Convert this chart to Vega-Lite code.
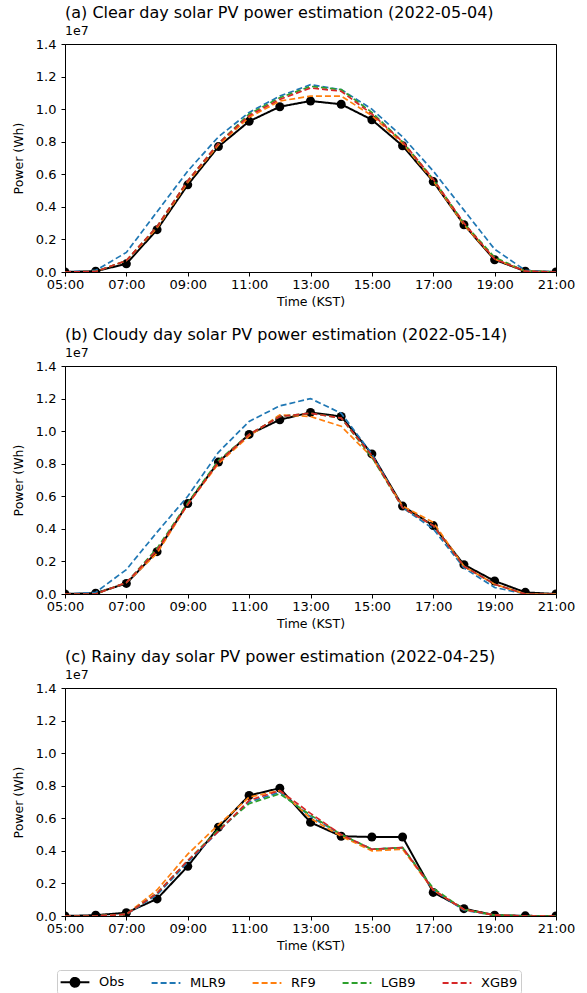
{
  "$schema": "https://vega.github.io/schema/vega-lite/v6.json",
  "background": "white",
  "padding": {"left": 11, "top": 4, "right": 10, "bottom": 0},
  "datasets": {
    "pv": [
      {"day": "a", "hour": 5, "Obs": 0, "MLR9": 0, "RF9": 0, "LGB9": 0, "XGB9": 0},
      {"day": "a", "hour": 6, "Obs": 50000, "MLR9": 100000, "RF9": 30000, "LGB9": 30000, "XGB9": 30000},
      {"day": "a", "hour": 7, "Obs": 500000, "MLR9": 1200000, "RF9": 700000, "LGB9": 700000, "XGB9": 700000},
      {"day": "a", "hour": 8, "Obs": 2600000, "MLR9": 3700000, "RF9": 2700000, "LGB9": 2800000, "XGB9": 2800000},
      {"day": "a", "hour": 9, "Obs": 5350000, "MLR9": 6200000, "RF9": 5500000, "LGB9": 5600000, "XGB9": 5600000},
      {"day": "a", "hour": 10, "Obs": 7700000, "MLR9": 8300000, "RF9": 7800000, "LGB9": 7900000, "XGB9": 7900000},
      {"day": "a", "hour": 11, "Obs": 9250000, "MLR9": 9800000, "RF9": 9500000, "LGB9": 9700000, "XGB9": 9600000},
      {"day": "a", "hour": 12, "Obs": 10150000, "MLR9": 10800000, "RF9": 10500000, "LGB9": 10700000, "XGB9": 10600000},
      {"day": "a", "hour": 13, "Obs": 10500000, "MLR9": 11500000, "RF9": 10800000, "LGB9": 11400000, "XGB9": 11300000},
      {"day": "a", "hour": 14, "Obs": 10300000, "MLR9": 11200000, "RF9": 10800000, "LGB9": 11200000, "XGB9": 11100000},
      {"day": "a", "hour": 15, "Obs": 9350000, "MLR9": 10000000, "RF9": 9600000, "LGB9": 9800000, "XGB9": 9700000},
      {"day": "a", "hour": 16, "Obs": 7750000, "MLR9": 8300000, "RF9": 7900000, "LGB9": 8000000, "XGB9": 8000000},
      {"day": "a", "hour": 17, "Obs": 5550000, "MLR9": 6200000, "RF9": 5600000, "LGB9": 5700000, "XGB9": 5700000},
      {"day": "a", "hour": 18, "Obs": 2900000, "MLR9": 3800000, "RF9": 2900000, "LGB9": 3000000, "XGB9": 3000000},
      {"day": "a", "hour": 19, "Obs": 750000, "MLR9": 1400000, "RF9": 800000, "LGB9": 900000, "XGB9": 800000},
      {"day": "a", "hour": 20, "Obs": 50000, "MLR9": 100000, "RF9": 50000, "LGB9": 50000, "XGB9": 50000},
      {"day": "a", "hour": 21, "Obs": 0, "MLR9": 0, "RF9": 0, "LGB9": 0, "XGB9": 0},
      {"day": "b", "hour": 5, "Obs": 0, "MLR9": 0, "RF9": 0, "LGB9": 0, "XGB9": 0},
      {"day": "b", "hour": 6, "Obs": 50000, "MLR9": 100000, "RF9": 0, "LGB9": 0, "XGB9": 0},
      {"day": "b", "hour": 7, "Obs": 650000, "MLR9": 1500000, "RF9": 700000, "LGB9": 700000, "XGB9": 700000},
      {"day": "b", "hour": 8, "Obs": 2600000, "MLR9": 3800000, "RF9": 2500000, "LGB9": 2800000, "XGB9": 2700000},
      {"day": "b", "hour": 9, "Obs": 5550000, "MLR9": 6000000, "RF9": 5500000, "LGB9": 5600000, "XGB9": 5500000},
      {"day": "b", "hour": 10, "Obs": 8100000, "MLR9": 8700000, "RF9": 8000000, "LGB9": 8200000, "XGB9": 8100000},
      {"day": "b", "hour": 11, "Obs": 9800000, "MLR9": 10600000, "RF9": 9700000, "LGB9": 9800000, "XGB9": 9800000},
      {"day": "b", "hour": 12, "Obs": 10700000, "MLR9": 11550000, "RF9": 11000000, "LGB9": 10900000, "XGB9": 10900000},
      {"day": "b", "hour": 13, "Obs": 11150000, "MLR9": 12000000, "RF9": 10900000, "LGB9": 11100000, "XGB9": 11100000},
      {"day": "b", "hour": 14, "Obs": 10900000, "MLR9": 11100000, "RF9": 10300000, "LGB9": 10800000, "XGB9": 10800000},
      {"day": "b", "hour": 15, "Obs": 8600000, "MLR9": 8600000, "RF9": 8400000, "LGB9": 8400000, "XGB9": 8500000},
      {"day": "b", "hour": 16, "Obs": 5400000, "MLR9": 5300000, "RF9": 5400000, "LGB9": 5300000, "XGB9": 5300000},
      {"day": "b", "hour": 17, "Obs": 4200000, "MLR9": 4000000, "RF9": 4400000, "LGB9": 4200000, "XGB9": 4200000},
      {"day": "b", "hour": 18, "Obs": 1800000, "MLR9": 1600000, "RF9": 1700000, "LGB9": 1700000, "XGB9": 1700000},
      {"day": "b", "hour": 19, "Obs": 800000, "MLR9": 400000, "RF9": 600000, "LGB9": 600000, "XGB9": 600000},
      {"day": "b", "hour": 20, "Obs": 100000, "MLR9": 0, "RF9": 0, "LGB9": 0, "XGB9": 0},
      {"day": "b", "hour": 21, "Obs": 0, "MLR9": 0, "RF9": 0, "LGB9": 0, "XGB9": 0},
      {"day": "c", "hour": 5, "Obs": 0, "MLR9": 0, "RF9": 0, "LGB9": 0, "XGB9": 0},
      {"day": "c", "hour": 6, "Obs": 50000, "MLR9": 0, "RF9": 0, "LGB9": 0, "XGB9": 0},
      {"day": "c", "hour": 7, "Obs": 200000, "MLR9": 100000, "RF9": 100000, "LGB9": 100000, "XGB9": 100000},
      {"day": "c", "hour": 8, "Obs": 1050000, "MLR9": 1300000, "RF9": 1600000, "LGB9": 1400000, "XGB9": 1400000},
      {"day": "c", "hour": 9, "Obs": 3050000, "MLR9": 3300000, "RF9": 3800000, "LGB9": 3400000, "XGB9": 3400000},
      {"day": "c", "hour": 10, "Obs": 5450000, "MLR9": 5200000, "RF9": 5600000, "LGB9": 5300000, "XGB9": 5200000},
      {"day": "c", "hour": 11, "Obs": 7400000, "MLR9": 7000000, "RF9": 7300000, "LGB9": 6900000, "XGB9": 7100000},
      {"day": "c", "hour": 12, "Obs": 7850000, "MLR9": 7600000, "RF9": 7700000, "LGB9": 7500000, "XGB9": 7700000},
      {"day": "c", "hour": 13, "Obs": 5750000, "MLR9": 6100000, "RF9": 6000000, "LGB9": 6200000, "XGB9": 6300000},
      {"day": "c", "hour": 14, "Obs": 4900000, "MLR9": 5000000, "RF9": 4900000, "LGB9": 5000000, "XGB9": 5000000},
      {"day": "c", "hour": 15, "Obs": 4850000, "MLR9": 4100000, "RF9": 4000000, "LGB9": 4100000, "XGB9": 4100000},
      {"day": "c", "hour": 16, "Obs": 4850000, "MLR9": 4200000, "RF9": 4100000, "LGB9": 4200000, "XGB9": 4200000},
      {"day": "c", "hour": 17, "Obs": 1450000, "MLR9": 1600000, "RF9": 1600000, "LGB9": 1700000, "XGB9": 1600000},
      {"day": "c", "hour": 18, "Obs": 450000, "MLR9": 350000, "RF9": 400000, "LGB9": 400000, "XGB9": 400000},
      {"day": "c", "hour": 19, "Obs": 50000, "MLR9": 50000, "RF9": 50000, "LGB9": 50000, "XGB9": 50000},
      {"day": "c", "hour": 20, "Obs": 10000, "MLR9": 0, "RF9": 0, "LGB9": 0, "XGB9": 0},
      {"day": "c", "hour": 21, "Obs": 0, "MLR9": 0, "RF9": 0, "LGB9": 0, "XGB9": 0}
    ]
  },
  "spacing": 18,
  "vconcat": [
    {
      "title": {"text": "(a) Clear day solar PV power estimation (2022-05-04)", "subtitle": "1e7"},
      "width": 491, "height": 228,
      "data": {"name": "pv"},
      "transform": [
        {"filter": "datum.day === 'a'"},
        {"fold": ["Obs", "MLR9", "RF9", "LGB9", "XGB9"], "as": ["model", "power"]}
      ],
      "encoding": {
        "x": {"field": "hour", "type": "quantitative", "scale": {"domain": [5, 21], "nice": false},
              "axis": {"values": [5, 7, 9, 11, 13, 15, 17, 19, 21], "labelExpr": "(datum.value < 10 ? '0' : '') + datum.value + ':00'", "title": "Time (KST)", "labelPadding": 2}},
        "y": {"field": "power", "type": "quantitative", "scale": {"domain": [0, 14000000], "nice": false},
              "axis": {"values": [0, 2000000, 4000000, 6000000, 8000000, 10000000, 12000000, 14000000], "labelExpr": "format(datum.value / 10000000, '.1f')", "title": "Power (Wh)", "labelPadding": 5, "titlePadding": 10}}
      },
      "layer": [
        {"transform": [{"filter": "datum.model === 'Obs'"}],
         "mark": {"type": "line", "strokeWidth": 2, "clip": true},
         "encoding": {
           "color": {"field": "model", "type": "nominal",
                     "scale": {"domain": ["Obs", "MLR9", "RF9", "LGB9", "XGB9"], "range": ["#000000", "#1f77b4", "#ff7f0e", "#2ca02c", "#d62728"]},
                     "legend": {"encode": {"symbols": {"update": {
                       "shape": {"signal": "datum.value === 'Obs' ? 'M-1.8,0H1.8M0.55,0A0.55,0.55,0,1,1,-0.55,0A0.55,0.55,0,1,1,0.55,0Z' : 'M-1.8,0H1.8'"},
                       "fill": {"signal": "datum.value === 'Obs' ? 'black' : 'transparent'"}
                     }}}}},
           "strokeDash": {"field": "model", "type": "nominal", "scale": {"domain": ["Obs", "MLR9", "RF9", "LGB9", "XGB9"], "range": [[1, 0], [6, 3], [6, 3], [6, 3], [6, 3]]}}
         }},
        {"transform": [{"filter": "datum.model === 'Obs'"}],
         "mark": {"type": "point", "filled": true, "size": 81, "opacity": 1, "color": "black", "clip": true}},
        {"transform": [{"filter": "datum.model !== 'Obs'"}],
         "mark": {"type": "line", "strokeWidth": 1.7, "clip": true},
         "encoding": {
           "color": {"field": "model", "type": "nominal"},
           "strokeDash": {"field": "model", "type": "nominal"}
         }}
      ]
    },
    {
      "title": {"text": "(b) Cloudy day solar PV power estimation (2022-05-14)", "subtitle": "1e7"},
      "width": 491, "height": 228,
      "data": {"name": "pv"},
      "transform": [
        {"filter": "datum.day === 'b'"},
        {"fold": ["Obs", "MLR9", "RF9", "LGB9", "XGB9"], "as": ["model", "power"]}
      ],
      "encoding": {
        "x": {"field": "hour", "type": "quantitative", "scale": {"domain": [5, 21], "nice": false},
              "axis": {"values": [5, 7, 9, 11, 13, 15, 17, 19, 21], "labelExpr": "(datum.value < 10 ? '0' : '') + datum.value + ':00'", "title": "Time (KST)", "labelPadding": 2}},
        "y": {"field": "power", "type": "quantitative", "scale": {"domain": [0, 14000000], "nice": false},
              "axis": {"values": [0, 2000000, 4000000, 6000000, 8000000, 10000000, 12000000, 14000000], "labelExpr": "format(datum.value / 10000000, '.1f')", "title": "Power (Wh)", "labelPadding": 5, "titlePadding": 10}}
      },
      "layer": [
        {"transform": [{"filter": "datum.model === 'Obs'"}],
         "mark": {"type": "line", "strokeWidth": 2, "clip": true},
         "encoding": {
           "color": {"field": "model", "type": "nominal"},
           "strokeDash": {"field": "model", "type": "nominal"}
         }},
        {"transform": [{"filter": "datum.model === 'Obs'"}],
         "mark": {"type": "point", "filled": true, "size": 81, "opacity": 1, "color": "black", "clip": true}},
        {"transform": [{"filter": "datum.model !== 'Obs'"}],
         "mark": {"type": "line", "strokeWidth": 1.7, "clip": true},
         "encoding": {
           "color": {"field": "model", "type": "nominal"},
           "strokeDash": {"field": "model", "type": "nominal"}
         }}
      ]
    },
    {
      "title": {"text": "(c) Rainy day solar PV power estimation (2022-04-25)", "subtitle": "1e7"},
      "width": 491, "height": 228,
      "data": {"name": "pv"},
      "transform": [
        {"filter": "datum.day === 'c'"},
        {"fold": ["Obs", "MLR9", "RF9", "LGB9", "XGB9"], "as": ["model", "power"]}
      ],
      "encoding": {
        "x": {"field": "hour", "type": "quantitative", "scale": {"domain": [5, 21], "nice": false},
              "axis": {"values": [5, 7, 9, 11, 13, 15, 17, 19, 21], "labelExpr": "(datum.value < 10 ? '0' : '') + datum.value + ':00'", "title": "Time (KST)", "labelPadding": 2}},
        "y": {"field": "power", "type": "quantitative", "scale": {"domain": [0, 14000000], "nice": false},
              "axis": {"values": [0, 2000000, 4000000, 6000000, 8000000, 10000000, 12000000, 14000000], "labelExpr": "format(datum.value / 10000000, '.1f')", "title": "Power (Wh)", "labelPadding": 5, "titlePadding": 10}}
      },
      "layer": [
        {"transform": [{"filter": "datum.model === 'Obs'"}],
         "mark": {"type": "line", "strokeWidth": 2, "clip": true},
         "encoding": {
           "color": {"field": "model", "type": "nominal"},
           "strokeDash": {"field": "model", "type": "nominal"}
         }},
        {"transform": [{"filter": "datum.model === 'Obs'"}],
         "mark": {"type": "point", "filled": true, "size": 81, "opacity": 1, "color": "black", "clip": true}},
        {"transform": [{"filter": "datum.model !== 'Obs'"}],
         "mark": {"type": "line", "strokeWidth": 1.7, "clip": true},
         "encoding": {
           "color": {"field": "model", "type": "nominal"},
           "strokeDash": {"field": "model", "type": "nominal"}
         }}
      ]
    }
  ],
  "resolve": {"scale": {"color": "shared", "strokeDash": "shared"}, "legend": {"color": "shared", "strokeDash": "shared"}},
  "config": {
    "font": "DejaVu Sans",
    "view": {"stroke": "black", "strokeWidth": 1},
    "axis": {"grid": false, "domainColor": "black", "tickColor": "black", "labelColor": "black", "titleColor": "black",
             "labelFontSize": 13, "titleFontSize": 12.5, "titleFontWeight": "normal", "tickSize": 4,
             "labelFlush": false, "labelOverlap": false, "titlePadding": 4},
    "title": {"anchor": "start", "fontSize": 16, "fontWeight": "normal", "color": "black", "subtitleFontSize": 12.5,
              "subtitleColor": "black", "subtitlePadding": 4, "offset": 1, "frame": "group"},
    "legend": {
      "orient": "none", "legendX": -8, "legendY": 926, "direction": "horizontal", "title": null,
      "labelFontSize": 13, "labelColor": "black", "symbolSize": 256, "symbolStrokeWidth": 2,
      "symbolOffset": 6, "labelOffset": 15, "columnPadding": 22,
      "strokeColor": "#cccccc", "cornerRadius": 3, "padding": 3, "symbolLimit": 10,
      "symbolType": "M-1.8,0H1.8"
    }
  }
}
